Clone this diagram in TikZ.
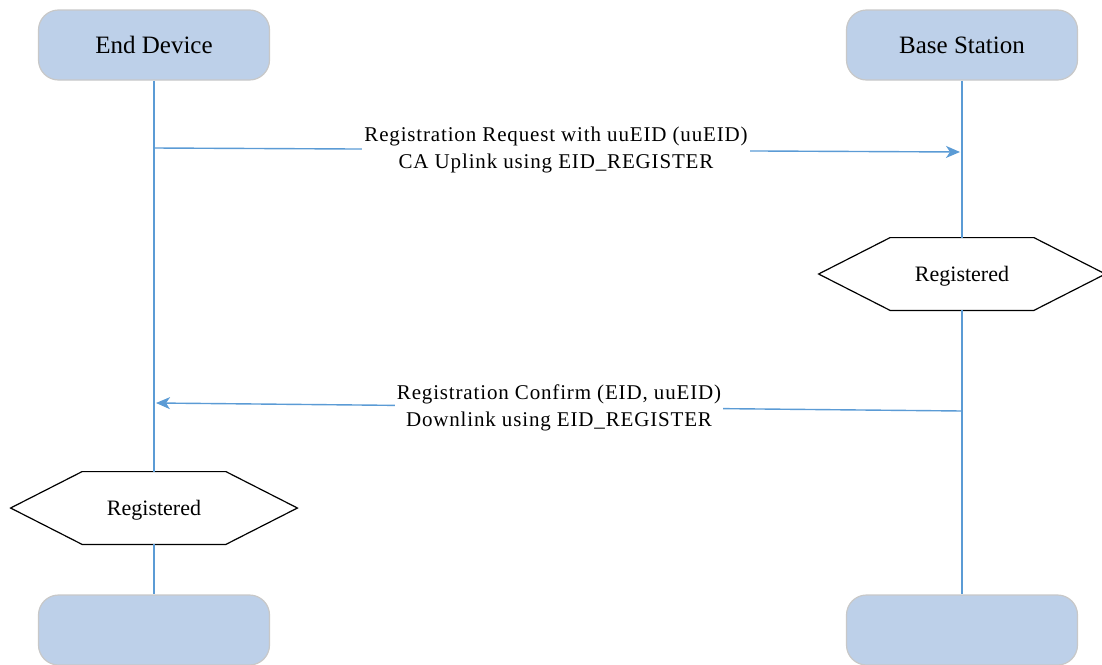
\documentclass[tikz,border=0pt]{standalone}
\usepackage{fontspec}
\setmainfont{Liberation Serif}
\usetikzlibrary{arrows.meta}
\definecolor{boxfill}{HTML}{BDD0E9}
\definecolor{boxline}{HTML}{C8C8C8}
\definecolor{life}{HTML}{5B9BD5}
\tikzset{
  party/.style={rectangle, rounded corners=10pt, fill=boxfill, draw=boxline, line width=0.6pt,
    minimum width=115.5pt, minimum height=35pt, inner sep=0pt, font=\fontsize{12.5}{14}\selectfont},
  hexstate/.style={rectangle, minimum width=143pt, minimum height=36pt, inner sep=0pt,
    font=\fontsize{11}{13}\selectfont},
  lifeline/.style={draw=life, line width=0.7pt},
  msg/.style={draw=life, line width=0.7pt, -{Stealth[length=7pt,width=6pt,inset=2pt]}},
  msglabel/.style={fill=white, inner sep=1pt, align=center,
    font=\fontsize{10.5}{13.5}\selectfont\addfontfeature{LetterSpace=4}}
}
\newcommand{\hexpath}[1]{%
  \draw[black, line width=0.6pt] (#1.west) -- ([xshift=35.75pt]#1.north west)
    -- ([xshift=-35.75pt]#1.north east) -- (#1.east)
    -- ([xshift=-35.75pt]#1.south east) -- ([xshift=35.75pt]#1.south west) -- cycle;}
\begin{document}
\begin{tikzpicture}[x=0.5pt, y=-0.5pt]
  \useasboundingbox (0,0) rectangle (1102,664);
  % participants
  \node[party] (ed)  at (154,45)  {End Device};
  \node[party] (bs)  at (962,45)  {Base Station};
  \node[party] (edb) at (154,630) {};
  \node[party] (bsb) at (962,630) {};
  % state boxes
  \node[hexstate] (h2) at (962,274) {};
  \node[hexstate] (h1) at (154,508) {};
  \hexpath{h2}
  \hexpath{h1}
  \node[hexstate, minimum width=0pt, minimum height=0pt] (t2) at ([yshift=-1pt]h2.center) {Registered};
  \node[hexstate, minimum width=0pt, minimum height=0pt] (t1) at ([yshift=-1pt]h1.center) {Registered};
  % lifelines
  \draw[lifeline] (ed.south) -- (h1.north);
  \draw[lifeline] (h1.south) -- (edb.north);
  \draw[lifeline] (bs.south) -- (h2.north);
  \draw[lifeline] (h2.south) -- (bsb.north);
  % message end points on the lifelines
  \coordinate (m1s) at (154,148);
  \coordinate (m1e) at (960,152);
  \coordinate (m2s) at (962,411);
  \coordinate (m2e) at (156,403);
  % messages
  \draw[msg] (m1s) -- (m1e);
  \node[msglabel] (l1) at (556,150) {Registration Request with uuEID (uuEID)\\CA Uplink using EID\_REGISTER};
  \draw[msg] (m2s) -- (m2e);
  \node[msglabel] (l2) at (559,408) {Registration Confirm (EID, uuEID)\\Downlink using EID\_REGISTER};
\end{tikzpicture}
\end{document}
